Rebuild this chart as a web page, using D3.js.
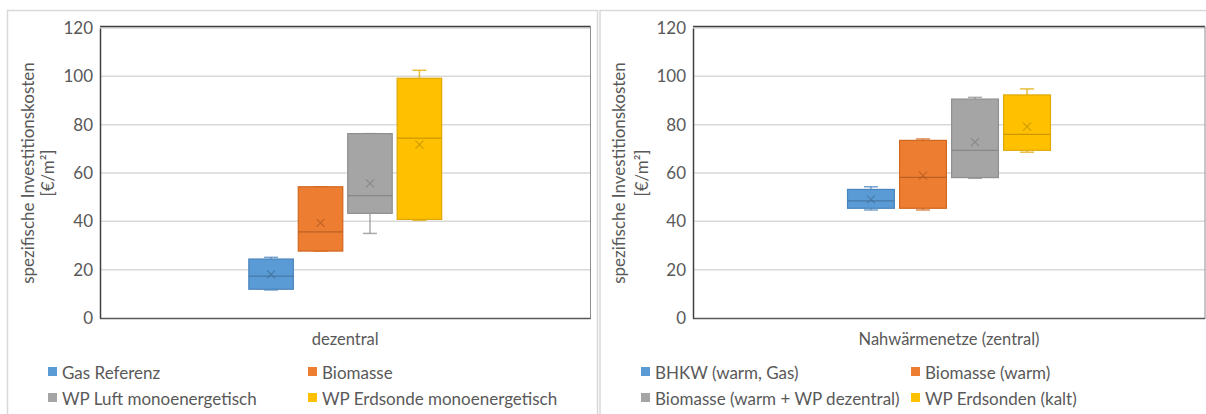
<!DOCTYPE html>
<html><head><meta charset="utf-8">
<script src="https://cdn.jsdelivr.net/npm/d3@7"></script>
<style>
html,body{margin:0;padding:0;background:#fff;}
svg text{font-family:Lato,"Open Sans",sans-serif;fill:#595959;}
</style></head>
<body>
<svg id="chart" width="1206" height="414"></svg>
<script>
// ---- data ----
const yTicks = [0, 20, 40, 60, 80, 100, 120];
const yTitle1 = "spezifische Investitionskosten";
const yTitle2 = "[€/m²]";

const leftCategory = "dezentral";
const leftSeries = ["Gas Referenz", "Biomasse", "WP Luft monoenergetisch", "WP Erdsonde monoenergetisch"];
const leftMin    = [11.6, 27.7, 35.0, 40.4];
const leftQ1     = [11.9, 27.7, 43.3, 40.8];
const leftMedian = [17.3, 35.6, 50.6, 74.4];
const leftQ3     = [24.4, 54.3, 76.3, 99.2];
const leftMax    = [25.1, 54.3, 76.3, 102.5];
const leftMean   = [18.1, 39.4, 55.7, 71.7];

const rightCategory = "Nahwärmenetze (zentral)";
const rightSeries = ["BHKW (warm, Gas)", "Biomasse (warm)", "Biomasse (warm + WP dezentral)", "WP Erdsonden (kalt)"];
const rightMin    = [44.7, 44.7, 57.8, 68.6];
const rightQ1     = [45.4, 45.4, 58.1, 69.4];
const rightMedian = [48.5, 58.2, 69.4, 76.0];
const rightQ3     = [53.2, 73.5, 90.6, 92.3];
const rightMax    = [54.3, 74.1, 91.3, 94.8];
const rightMean   = [49.1, 58.9, 72.8, 79.2];

const fills   = ["#5b9bd5", "#ed7d31", "#a5a5a5", "#ffc000"];
const strokes = ["#4a84bd", "#d1661f", "#8f8f8f", "#e0a800"];
const darks   = ["#41719c", "#ae5a21", "#7f7f7f", "#bf9000"];

const svg = d3.select("#chart");

// outer frames
svg.append("rect").attr("x", 7.5).attr("y", 10.5).attr("width", 590).attr("height", 420)
  .attr("fill", "none").attr("stroke", "#d9d9d9").attr("stroke-width", 1.5);
svg.append("rect").attr("x", 600).attr("y", 10.5).attr("width", 620).attr("height", 420)
  .attr("fill", "none").attr("stroke", "#d9d9d9").attr("stroke-width", 1.5);

function panel(cfg) {
  const g = svg.append("g");
  const y = d3.scaleLinear().domain([0, 120]).range([318, 28]);
  const x0 = d3.scaleBand().domain([cfg.category]).range([cfg.left, cfg.right])
    .paddingInner(0).paddingOuter(cfg.outer);
  const x1 = d3.scaleBand().domain(cfg.series).range([0, x0.bandwidth()])
    .paddingInner(0.1).paddingOuter(0.05);

  // gridlines
  g.append("g").selectAll("line").data(yTicks.filter(t => t > 0)).join("line")
    .attr("x1", cfg.left).attr("x2", cfg.right)
    .attr("y1", d => y(d)).attr("y2", d => y(d))
    .attr("stroke", "#d9d9d9").attr("stroke-width", 1.5);

  // frame
  g.append("line").attr("x1", cfg.left).attr("x2", cfg.right).attr("y1", 26.5).attr("y2", 26.5)
    .attr("stroke", "#404040").attr("stroke-width", 1.5);
  g.append("line").attr("x1", cfg.right).attr("x2", cfg.right).attr("y1", 26.5).attr("y2", 319)
    .attr("stroke", "#8c8c8c").attr("stroke-width", 1);
  g.append("line").attr("x1", cfg.left).attr("x2", cfg.right).attr("y1", 318.5).attr("y2", 318.5)
    .attr("stroke", "#595959").attr("stroke-width", 1.5);

  // y axis
  const ax = g.append("g").attr("transform", `translate(${cfg.left},0)`)
    .call(d3.axisLeft(y).tickValues(yTicks).tickSize(0).tickPadding(7));
  ax.select(".domain").attr("stroke", "#404040").attr("stroke-width", 1.5);
  ax.selectAll("text").style("font-size", "17px").attr("fill", "#595959")
    .style("font-family", "Lato, 'Open Sans', sans-serif");

  // y title
  g.append("text").attr("transform", `translate(${cfg.t1x},173) rotate(-90)`)
    .attr("text-anchor", "middle").attr("dominant-baseline", "central")
    .style("font-size", "17px").text(yTitle1);
  g.append("text").attr("transform", `translate(${cfg.t2x},173) rotate(-90)`)
    .attr("text-anchor", "middle").attr("dominant-baseline", "central")
    .style("font-size", "17px").text(yTitle2);

  // category label
  g.append("text").attr("x", x0(cfg.category) + x0.bandwidth() / 2).attr("y", 339)
    .attr("text-anchor", "middle").attr("dominant-baseline", "central")
    .style("font-size", "16.5px").text(cfg.category);

  const data = cfg.series.map((s, i) => ({
    s, i, min: cfg.min[i], q1: cfg.q1[i], med: cfg.med[i], q3: cfg.q3[i], max: cfg.max[i], mean: cfg.mean[i]
  }));
  const bw = x1.bandwidth();
  const boxes = g.append("g").selectAll("g").data(data).join("g")
    .attr("transform", d => `translate(${x0(cfg.category) + x1(d.s)},0)`);

  // whiskers
  boxes.append("line").attr("x1", bw / 2).attr("x2", bw / 2)
    .attr("y1", d => y(d.max)).attr("y2", d => y(d.q3))
    .attr("stroke", d => strokes[d.i]).attr("stroke-opacity", 0.75).attr("stroke-width", 1.5);
  boxes.append("line").attr("x1", bw / 2).attr("x2", bw / 2)
    .attr("y1", d => y(d.min)).attr("y2", d => y(d.q1))
    .attr("stroke", d => strokes[d.i]).attr("stroke-opacity", 0.75).attr("stroke-width", 1.5);
  boxes.append("line").attr("x1", bw / 2 - 7).attr("x2", bw / 2 + 7)
    .attr("y1", d => y(d.max)).attr("y2", d => y(d.max))
    .attr("stroke", d => strokes[d.i]).attr("stroke-opacity", 0.75).attr("stroke-width", 1.5);
  boxes.append("line").attr("x1", bw / 2 - 7).attr("x2", bw / 2 + 7)
    .attr("y1", d => y(d.min)).attr("y2", d => y(d.min))
    .attr("stroke", d => strokes[d.i]).attr("stroke-opacity", 0.75).attr("stroke-width", 1.5);

  // box
  boxes.append("rect").attr("x", 0).attr("width", bw)
    .attr("y", d => y(d.q3)).attr("height", d => y(d.q1) - y(d.q3))
    .attr("fill", d => fills[d.i]).attr("stroke", d => strokes[d.i]).attr("stroke-width", 1.2);
  // median
  boxes.append("line").attr("x1", 0).attr("x2", bw)
    .attr("y1", d => y(d.med)).attr("y2", d => y(d.med))
    .attr("stroke", d => darks[d.i]).attr("stroke-opacity", 0.8).attr("stroke-width", 1.2);
  // mean x
  boxes.append("path")
    .attr("d", d => {
      const cx = bw / 2, cy = y(d.mean), r = 4;
      return `M${cx - r},${cy - r}L${cx + r},${cy + r}M${cx - r},${cy + r}L${cx + r},${cy - r}`;
    })
    .attr("stroke", d => darks[d.i]).attr("stroke-opacity", 0.75).attr("stroke-width", 1.1).attr("fill", "none");

  // legend
  const leg = g.append("g").selectAll("g").data(cfg.series).join("g")
    .attr("transform", (d, i) => `translate(${cfg.legX[i % 2]},${i < 2 ? 372 : 398})`);
  leg.append("rect").attr("x", -14).attr("y", -5).attr("width", 9).attr("height", 9)
    .attr("fill", (d, i) => fills[i]);
  leg.append("text").attr("x", 0).attr("y", 0).attr("dominant-baseline", "central")
    .style("font-size", "17px").text(d => d);
}

panel({
  category: leftCategory, series: leftSeries, left: 100, right: 590.5, outer: 0.74,
  min: leftMin, q1: leftQ1, med: leftMedian, q3: leftQ3, max: leftMax, mean: leftMean,
  t1x: 27, t2x: 47, legX: [62, 322]
});
panel({
  category: rightCategory, series: rightSeries, left: 693, right: 1205, outer: 0.73,
  min: rightMin, q1: rightQ1, med: rightMedian, q3: rightQ3, max: rightMax, mean: rightMean,
  t1x: 618, t2x: 641, legX: [655, 925]
});
</script>
</body></html>
